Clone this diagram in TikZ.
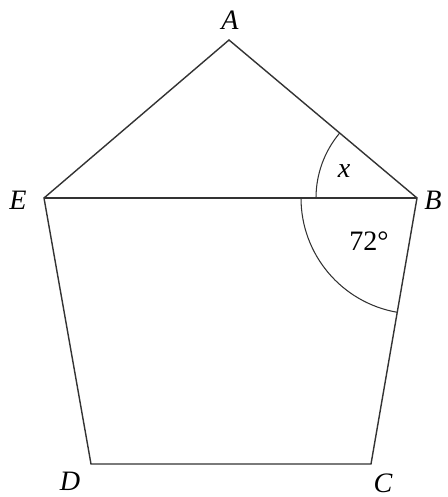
\documentclass[tikz,border=0pt]{standalone}
\usepackage{fontspec}
\setmainfont{Liberation Serif}
\usetikzlibrary{calc}
\tikzset{
  edge/.style    ={line width=0.8pt, draw=black!80, line join=miter},
  anglearc/.style={line width=0.6pt, draw=black!80},
  vlabel/.style  ={inner sep=0pt, font=\fontsize{16}{18}\selectfont\itshape},
  alabel/.style  ={inner sep=0pt, font=\fontsize{16}{18}\selectfont}
}
\begin{document}
\begin{tikzpicture}[x=0.02cm, y=0.02cm]
  \useasboundingbox (0,0) rectangle (448,497);
  \coordinate (A) at (229,457);
  \coordinate (B) at (417,299);
  \coordinate (C) at (371,33);
  \coordinate (D) at (91,33);
  \coordinate (E) at (44,299);
  \draw[edge] (A) -- (B) -- (C) -- (D) -- (E) -- cycle;
  \draw[edge] (E) -- (B);
  % angle marks at B
  \draw[anglearc] ($(B)+(139.9:101)$) arc[start angle=139.9, end angle=180, radius=101];
  \draw[anglearc] ($(B)+(180:116)$) arc[start angle=180, end angle=260.2, radius=116];
  \node[vlabel] (lA) at (230,477) {A};
  \node[vlabel] (lB) at (433,297) {B};
  \node[vlabel] (lC) at (383,14)  {C};
  \node[vlabel] (lD) at (70,16)   {D};
  \node[vlabel] (lE) at (18,297)  {E};
  \node[vlabel] (lx) at (344,326) {x};
  \node[alabel] (l72) at (369,256) {72°};
\end{tikzpicture}
\end{document}
